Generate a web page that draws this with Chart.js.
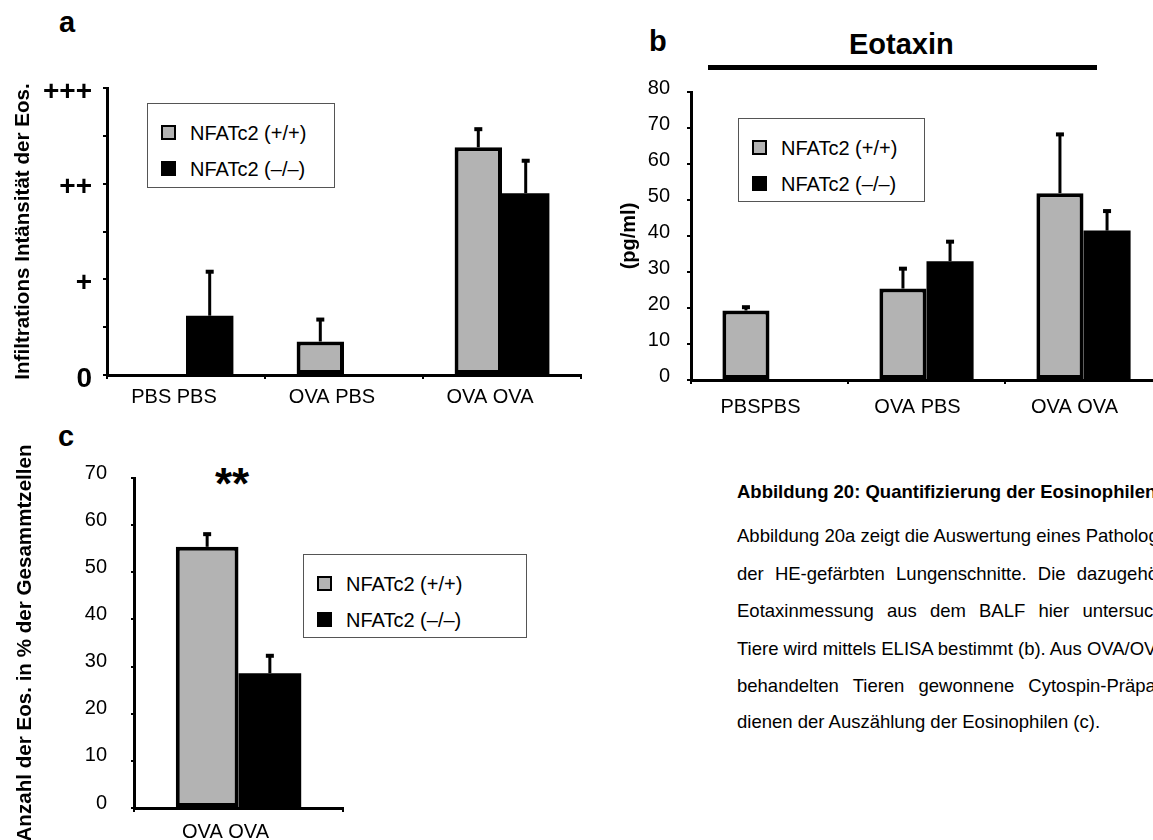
<!DOCTYPE html>
<html lang="de">
<head>
<meta charset="utf-8">
<title>Abbildung 20</title>
<script src="https://cdn.jsdelivr.net/npm/chart.js@4.4.1/dist/chart.umd.min.js"></script>
<style>
html,body{margin:0;padding:0;background:#fff;}
body{position:relative;width:1153px;height:840px;overflow:hidden;font-family:"Liberation Sans",Arial,sans-serif;color:#000;}
canvas{position:absolute;display:block;}
.t{position:absolute;white-space:nowrap;}
.letter{font-weight:bold;font-size:29px;line-height:29px;}
.legend{position:absolute;border:1px solid #555;background:#fff;box-sizing:border-box;}
.legend .sw{position:absolute;left:13px;width:15px;height:15px;box-sizing:border-box;}
.legend .lb{position:absolute;left:42px;font-size:20px;line-height:20px;white-space:nowrap;}
.cap{position:absolute;left:737px;font-size:18.5px;line-height:19px;white-space:nowrap;}
</style>
</head>
<body>
<div class="t letter" style="left:59px;top:8px;">a</div>
<div class="t letter" style="left:649px;top:27px;">b</div>
<div class="t letter" style="left:58px;top:422px;">c</div>
<div class="t" style="left:849px;top:30px;font-weight:bold;font-size:29px;line-height:29px;">Eotaxin</div>
<div style="position:absolute;left:708px;top:65px;width:389px;height:5px;background:#000;"></div>
<div class="t" style="left:182px;top:462px;width:100px;text-align:center;font-weight:bold;font-size:44px;line-height:44px;">**</div>

<canvas id="chartA" width="600" height="420" style="left:0;top:0;"></canvas>
<canvas id="chartB" width="600" height="420" style="left:580px;top:0;"></canvas>
<canvas id="chartC" width="360" height="425" style="left:0;top:420px;"></canvas>

<div id="legA" class="legend" style="left:147px;top:103px;width:188px;height:85px;"></div>
<div id="legB" class="legend" style="left:738px;top:118px;width:187px;height:84px;"></div>
<div id="legC" class="legend" style="left:303px;top:554px;width:224px;height:84px;"></div>

<div class="cap" style="top:482px;font-weight:bold;">Abbildung 20: Quantifizierung der Eosinophilen</div>
<div class="cap" style="top:526px;">Abbildung 20a zeigt die Auswertung eines Pathologen</div>
<div class="cap" style="top:564px;word-spacing:6px;">der HE-gefärbten Lungenschnitte. Die dazugehörige</div>
<div class="cap" style="top:601px;word-spacing:8px;">Eotaxinmessung aus dem BALF hier untersuchten</div>
<div class="cap" style="top:639px;">Tiere wird mittels ELISA bestimmt (b). Aus OVA/OVA</div>
<div class="cap" style="top:676px;word-spacing:9px;">behandelten Tieren gewonnene Cytospin-Präparate</div>
<div class="cap" style="top:712px;">dienen der Auszählung der Eosinophilen (c).</div>

<script>
// ---------- data ----------
const seriesNames = ['NFATc2 (+/+)', 'NFATc2 (–/–)'];
const seriesColors = ['#b3b3b3', '#000000'];

const categoriesA = ['PBS PBS', 'OVA PBS', 'OVA OVA'];
const wildtypeA = [null, 0.35, 2.38];
const knockoutA = [0.62, null, 1.90];
const wildtypeErrA = [null, 0.24, 0.20];
const knockoutErrA = [0.47, null, 0.35];
const tickValuesA = [0, 1, 2, 3];
const tickLabelsA = ['0', '+', '++', '+++'];

const categoriesB = ['PBSPBS', 'OVA PBS', 'OVA OVA'];
const wildtypeB = [19.3, 25.4, 51.9];
const knockoutB = [null, 33.0, 41.5];
const wildtypeErrB = [1.2, 5.8, 16.6];
const knockoutErrB = [null, 5.7, 5.7];

const categoriesC = ['OVA OVA'];
const wildtypeC = [55.4];
const knockoutC = [28.6];
const wildtypeErrC = [2.9];
const knockoutErrC = [3.9];

// ---------- setup ----------
const FONT = "'Liberation Sans', Arial, sans-serif";
Chart.defaults.font.family = FONT;
Chart.defaults.color = '#000';

const errorBars = {
  id: 'errorBars',
  afterDatasetsDraw(chart) {
    const ctx = chart.ctx;
    const yScale = chart.scales.y;
    chart.data.datasets.forEach((ds, i) => {
      const meta = chart.getDatasetMeta(i);
      (ds.errors || []).forEach((e, j) => {
        if (e == null || ds.data[j] == null) return;
        const bar = meta.data[j];
        const x = bar.x;
        const y0 = yScale.getPixelForValue(ds.data[j]);
        const y1 = yScale.getPixelForValue(ds.data[j] + e);
        ctx.save();
        ctx.strokeStyle = '#000';
        ctx.lineWidth = 3;
        ctx.beginPath();
        ctx.moveTo(x, y0);
        ctx.lineTo(x, y1);
        ctx.stroke();
        ctx.fillStyle = '#000';
        ctx.fillRect(x - 4, y1 - 1, 8, 4);
        ctx.restore();
      });
    });
  }
};

function datasets(wt, ko, wtErr, koErr) {
  return [
    { label: seriesNames[0], data: wt, errors: wtErr, backgroundColor: seriesColors[0],
      borderColor: '#000', borderWidth: 4, borderSkipped: false,
      categoryPercentage: 0.6, barPercentage: 1.0 },
    { label: seriesNames[1], data: ko, errors: koErr, backgroundColor: seriesColors[1],
      borderColor: '#000', borderWidth: 0, borderSkipped: false,
      categoryPercentage: 0.6, barPercentage: 1.0 }
  ];
}

function makeChart(id, cfg) {
  return new Chart(document.getElementById(id), {
    type: 'bar',
    data: { labels: cfg.labels, datasets: cfg.datasets },
    plugins: [errorBars],
    options: {
      responsive: false,
      animation: false,
      layout: { padding: cfg.padding },
      plugins: { legend: { display: false }, tooltip: { enabled: false }, title: { display: false } },
      scales: {
        x: {
          grid: { display: true, drawOnChartArea: false, drawTicks: true, tickLength: 4, color: '#000', lineWidth: 2, offset: true },
          border: { display: true, color: '#000', width: 3 },
          ticks: { font: { size: 20 }, color: '#000', padding: cfg.xPad, labelOffset: cfg.xLabelOffset, maxRotation: 0, autoSkip: false },
          afterFit(s) { s.height = cfg.xHeight; }
        },
        y: {
          min: cfg.yMin, max: cfg.yMax,
          grid: { display: true, drawOnChartArea: false, drawTicks: true, tickLength: cfg.yTickLen, color: '#000', lineWidth: 2 },
          border: { display: true, color: '#000', width: 3 },
          ticks: { stepSize: cfg.step, font: cfg.yFont, color: '#000', padding: cfg.yPad, labelOffset: cfg.yLabelOffset,
                   callback: cfg.yCallback },
          title: { display: true, text: cfg.yTitle, font: { size: cfg.titleSize, weight: 'bold' }, color: '#000',
                   padding: { top: cfg.titlePad, bottom: 0 } },
          afterFit(s) { s.width = cfg.yWidth; }
        }
      }
    }
  });
}

makeChart('chartA', {
  labels: categoriesA,
  datasets: datasets(wildtypeA, knockoutA, wildtypeErrA, knockoutErrA),
  padding: { top: 88, right: 19, bottom: 0, left: 0 },
  xHeight: 45, xPad: 6, xLabelOffset: -12,
  yWidth: 107, yMin: 0, yMax: 3, step: 0.5, yTickLen: 4, yPad: 11, yLabelOffset: 4,
  yFont: { size: 28, weight: 'bold' },
  yCallback: (v) => { const i = tickValuesA.indexOf(v); return i >= 0 ? tickLabelsA[i] : ''; },
  yTitle: 'Infiltrations Intänsität der Eos.', titlePad: 11, titleSize: 20.6
});

makeChart('chartB', {
  labels: categoriesB,
  datasets: datasets(wildtypeB, knockoutB, wildtypeErrB, knockoutErrB),
  padding: { top: 92, right: 18, bottom: 0, left: 0 },
  xHeight: 40, xPad: 11, xLabelOffset: -9,
  yWidth: 111, yMin: 0, yMax: 80, step: 10, yTickLen: 4, yPad: 17, yLabelOffset: -4,
  yFont: { size: 20 },
  yCallback: (v) => String(v),
  yTitle: '(pg/ml)', titlePad: 37, titleSize: 20
});

makeChart('chartC', {
  labels: categoriesC,
  datasets: datasets(wildtypeC, knockoutC, wildtypeErrC, knockoutErrC),
  padding: { top: 58, right: 17, bottom: 0, left: 0 },
  xHeight: 37, xPad: 8, xLabelOffset: -13,
  yWidth: 134, yMin: 0, yMax: 70, step: 10, yTickLen: 3, yPad: 24, yLabelOffset: -5,
  yFont: { size: 20 },
  yCallback: (v) => String(v),
  yTitle: 'Anzahl der Eos. in % der Gesammtzellen', titlePad: 13, titleSize: 20.6
});

// ---------- legends (HTML) ----------
function buildLegend(id) {
  const box = document.getElementById(id);
  seriesNames.forEach((name, i) => {
    const sw = document.createElement('div');
    sw.className = 'sw';
    sw.style.top = (21 + 36 * i) + 'px';
    sw.style.background = seriesColors[i];
    sw.style.border = i === 0 ? '2px solid #000' : 'none';
    box.appendChild(sw);
    const lb = document.createElement('div');
    lb.className = 'lb';
    lb.style.top = (19 + 36 * i) + 'px';
    lb.textContent = name;
    box.appendChild(lb);
  });
}
['legA', 'legB', 'legC'].forEach(buildLegend);
</script>
</body>
</html>
